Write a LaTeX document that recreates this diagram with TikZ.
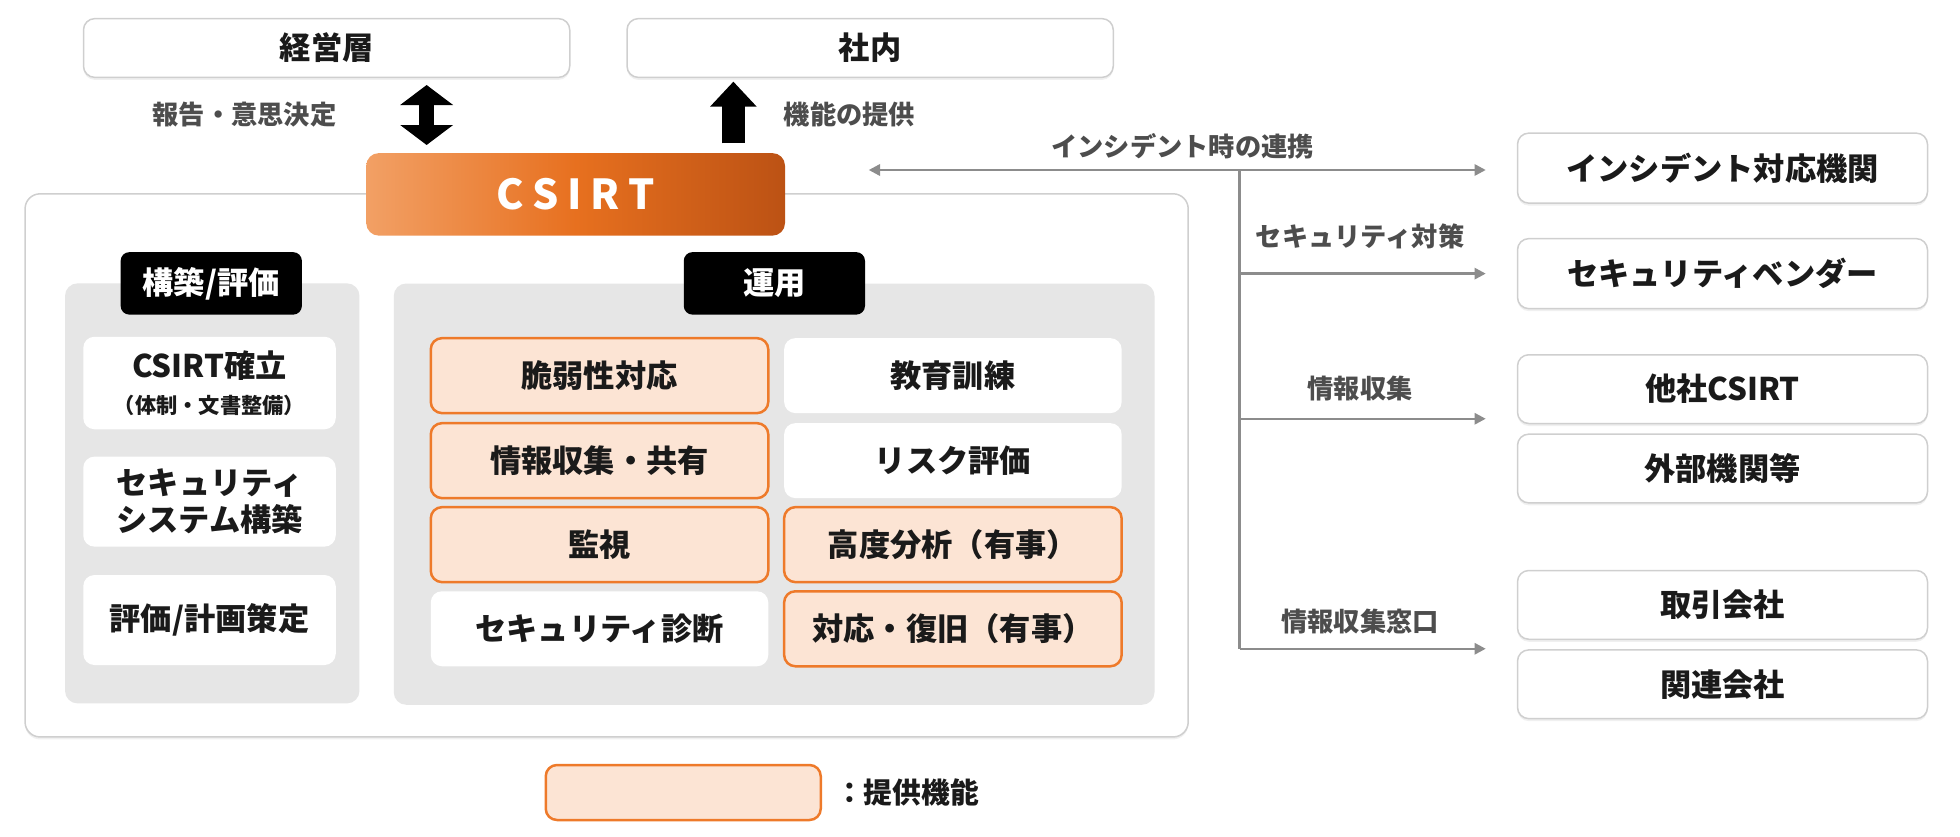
\documentclass[tikz,border=0pt]{standalone}
\usepackage{fontspec}
\setmainfont{Noto Sans CJK JP}
\usetikzlibrary{arrows.meta,shadows,calc}
\definecolor{bordergray}{HTML}{CFCFCF}
\definecolor{panelgray}{HTML}{E6E6E6}
\definecolor{peach}{HTML}{FCE4D4}
\definecolor{orangeline}{HTML}{EE7A2A}
\definecolor{conngray}{HTML}{8C8C8C}
\definecolor{labelgray}{HTML}{4D4D4D}
\definecolor{txt}{HTML}{1A1A1A}
\definecolor{csirtL}{HTML}{F2A065}
\definecolor{csirtM}{HTML}{E7701F}
\definecolor{csirtR}{HTML}{BC5214}
\begin{document}
\begin{tikzpicture}[x=1pt,y=-1pt,
  >={Triangle[length=9pt,width=9pt]},
  every node/.style={inner sep=0pt, outer sep=0pt, text=txt},
  bigtext/.style={font=\fontsize{25}{29}\selectfont\bfseries},
  topbox/.style={bigtext, draw=bordergray, line width=1.2pt, fill=white, rounded corners=9pt,
     drop shadow={opacity=0.12, shadow xshift=0pt, shadow yshift=-2pt}},
  wbox/.style={topbox},
  outerbox/.style={draw=bordergray, line width=1.2pt, fill=white, rounded corners=12pt,
     drop shadow={opacity=0.12, shadow xshift=0pt, shadow yshift=-2pt}},
  panel/.style={fill=panelgray, rounded corners=10pt},
  lbox/.style={fill=black, rounded corners=7pt, text=white, font=\fontsize{25}{29}\selectfont\bfseries},
  ibox/.style={bigtext, fill=white, rounded corners=9pt, align=center, minimum width=270, minimum height=60},
  obox/.style={bigtext, fill=peach, draw=orangeline, line width=2pt, rounded corners=9pt, align=center, minimum width=270, minimum height=60},
  lbox2/.style={bigtext, fill=white, rounded corners=9pt, align=center, minimum width=202},
  csirtbox/.style={rounded corners=10pt, left color=csirtL, right color=csirtR, middle color=csirtM,
     text=white, font=\fontsize{33}{36}\selectfont\bfseries},
  lbl/.style={text=labelgray, font=\fontsize{21}{25}\selectfont\bfseries},
  conn/.style={draw=conngray, line width=2pt},
]
\useasboundingbox (0,0) rectangle (1568,669);

% top boxes
\node[topbox, minimum width=389, minimum height=47] (keiei) at (261.3,38.4) {経営層};
\node[topbox, minimum width=389, minimum height=47] (shanai) at (696.1,38.4) {社内};

% outer container and panels
\node[outerbox, minimum width=930.5, minimum height=434.5] (outer) at (485.3,372.3) {};
\node[panel, minimum width=235.5, minimum height=336] (lpanel) at (169.8,394.7) {};
\node[panel, minimum width=608.6, minimum height=337] (rpanel) at (619.3,395.3) {};
\node[lbox, minimum width=145, minimum height=50] (llabel) at (169,226.7) {構築/評価};
\node[lbox, minimum width=145, minimum height=50] (rlabel) at (619.5,226.7) {運用};

% CSIRT
\node[csirtbox, minimum width=335, minimum height=66] (csirt) at (460.5,155.5) {C\kern7pt S\kern7pt I\kern7pt R\kern7pt T};

% left column
\node[lbox2, minimum height=74] (k1) at (167.6,306.4) {\fontsize{25}{24}\selectfont CSIRT確立\\\fontsize{17}{24}\selectfont （体制・文書整備）};
\node[lbox2, minimum height=72] (k2) at (167.6,401.3) {セキュリティ\\システム構築};
\node[lbox2, minimum height=72] (k3) at (167.6,496) {評価/計画策定};

% operation boxes
\node[obox] (u1) at (479.6,300.5) {脆弱性対応};
\node[obox] (u2) at (479.6,368.5) {情報収集・共有};
\node[obox] (u3) at (479.6,435.7) {監視};
\node[ibox] (u4) at (479.6,503) {セキュリティ診断};
\node[ibox] (u5) at (762.3,300.5) {教育訓練};
\node[ibox] (u6) at (762.3,368.5) {リスク評価};
\node[obox] (u7) at (762.3,435.7) {高度分析（有事）};
\node[obox] (u8) at (762.3,503) {対応・復旧（有事）};

% right boxes
\node[wbox, minimum width=328, minimum height=56] (incident) at (1378,134.5) {インシデント対応機関};
\node[wbox, minimum width=328, minimum height=56] (vendor) at (1378,218.9) {セキュリティベンダー};
\node[wbox, minimum width=328, minimum height=55] (tasha) at (1378,311.3) {他社CSIRT};
\node[wbox, minimum width=328, minimum height=55] (gaibu) at (1378,374.8) {外部機関等};
\node[wbox, minimum width=328, minimum height=55] (torihiki) at (1378,483.9) {取引会社};
\node[wbox, minimum width=328, minimum height=55] (kanren) at (1378,547.4) {関連会社};

% black block arrows
\coordinate (d1) at (341.3,68);
\coordinate (d2) at (341.3,116);
\draw[draw=black, line width=12.5pt, {Triangle[length=16pt,width=41.5pt]}-{Triangle[length=16pt,width=41.5pt]}] (d1) -- (d2);
\coordinate (e1) at (586.7,114.7);
\coordinate (e2) at (586.7,65.3);
\draw[draw=black, line width=18.7pt, -{Triangle[length=20pt,width=36pt]}] (e1) -- (e2);

% labels
\node[lbl] (lab1) at (195.5,91.6) {報告・意思決定};
\node[lbl, anchor=west] (lab2) at (627,91.6) {機能の提供};
\node[lbl] (lab3) at (946,117) {インシデント時の連携};
\node[lbl] (lab4) at (1088,189) {セキュリティ対策};
\node[lbl] (lab5) at (1088,311) {情報収集};
\node[lbl] (lab6) at (1088,497) {情報収集窓口};

% gray connectors
\coordinate (tipL) at (695,136);
\coordinate (ax) at ([xshift=-25.4pt]incident.west);
\coordinate (junc) at (991.6,136);
\coordinate (b3) at (1188.6,335);
\coordinate (b4) at (1188.6,519);
\draw[conn, <->] (tipL) -- (tipL -| ax);
\draw[conn] (junc) -- (junc |- b4);
\draw[conn, ->] (junc |- vendor.west) -- (ax |- vendor.west);
\draw[conn, ->] (junc |- b3) -- (b3);
\draw[conn, ->] (junc |- b4) -- (b4);

% legend
\node[obox, minimum width=220, minimum height=44] (legbox) at (546.6,634) {};
\node[anchor=west, font=\fontsize{23}{27}\selectfont\bfseries] (legtxt) at (668,634) {：提供機能};
\end{tikzpicture}
\end{document}
